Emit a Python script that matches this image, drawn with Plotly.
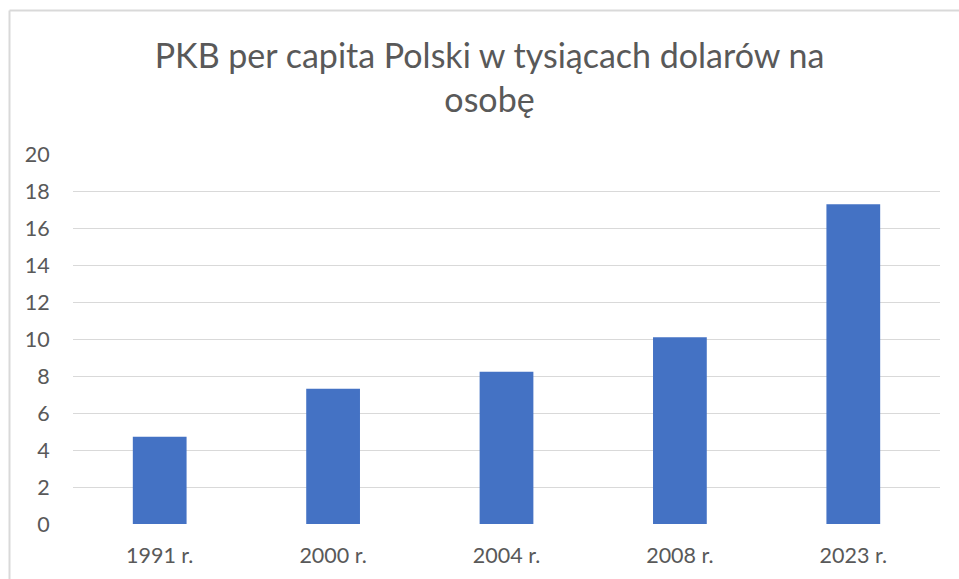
import plotly.graph_objects as go

categories = ["1991 r.", "2000 r.", "2004 r.", "2008 r.", "2023 r."]
values = [4.72, 7.31, 8.23, 10.09, 17.28]
y_ticks = [0, 2, 4, 6, 8, 10, 12, 14, 16, 18, 20]

W, H = 959, 579
L, R, T, B = 73, 940, 154, 524
pw, ph = R - L, B - T

FONT = "Lato, 'Open Sans', sans-serif"
GRAY = "#595959"

fig = go.Figure(go.Bar(
    x=categories, y=values,
    marker=dict(color="#4472C4", line=dict(width=0)),
    width=0.31,
))

def px_x(p):
    return (p - L) / pw

def px_y(p):
    return (B - p) / ph

border = dict(color="#d9d9d9", width=2)

fig.update_layout(
    width=W, height=H,
    margin=dict(l=L, r=W - R, t=T, b=H - B, pad=0),
    paper_bgcolor="white", plot_bgcolor="white",
    showlegend=False,
    font=dict(family=FONT, color=GRAY),
    title=dict(
        text="PKB per capita Polski w tysiącach dolarów na<br>osobę",
        x=489.5 / W, xanchor="center", xref="container",
        y=1 - 68 / H, yanchor="top", yref="container",
        font=dict(family=FONT, size=34, color=GRAY),
    ),
    xaxis=dict(
        showgrid=False, zeroline=False, showline=False,
        ticks="outside", ticklen=12, tickcolor="rgba(0,0,0,0)",
        tickfont=dict(size=21.5, color=GRAY, family=FONT),
    ),
    yaxis=dict(
        range=[0, 20], tickvals=y_ticks,
        showgrid=True, gridcolor="#d9d9d9", gridwidth=1.3,
        zeroline=False, showline=False,
        ticks="outside", ticklen=18, tickcolor="rgba(0,0,0,0)",
        tickfont=dict(size=21.5, color=GRAY, family=FONT),
    ),
    shapes=[
        dict(type="line", xref="paper", yref="paper",
             x0=px_x(9.5), x1=px_x(9.5), y0=px_y(600), y1=px_y(10.5),
             line=border, layer="below"),
        dict(type="line", xref="paper", yref="paper",
             x0=px_x(9.5), x1=px_x(980), y0=px_y(10.5), y1=px_y(10.5),
             line=border, layer="below"),
    ],
)

fig.write_html(
    "out.html",
    config={"displayModeBar": False},
    post_script="document.body.style.margin='0';document.body.style.overflow='hidden';",
)
